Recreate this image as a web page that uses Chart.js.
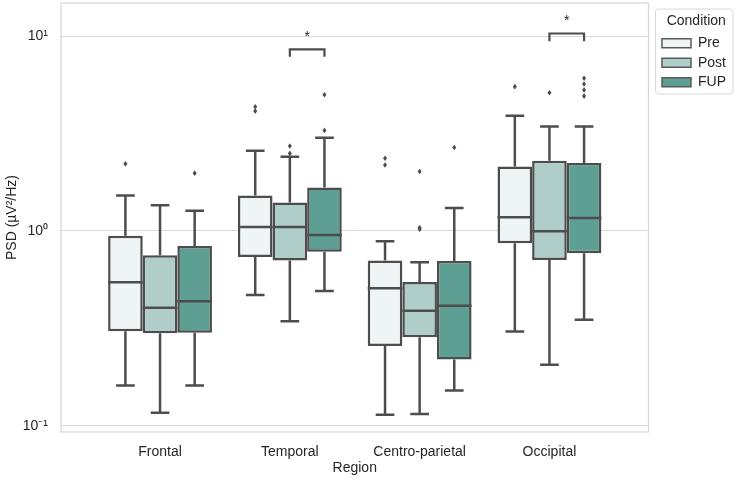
<!DOCTYPE html>
<html>
<head>
<meta charset="utf-8">
<script src="https://cdn.jsdelivr.net/npm/chart.js@4.4.1/dist/chart.umd.min.js"></script>
<style>
  body { margin: 0; background: #fff; }
</style>
</head>
<body>
<canvas id="psdChart" width="737" height="480"></canvas>
<script>
// regions on x, one box per condition
const regions = ['Frontal', 'Temporal', 'Centro-parietal', 'Occipital'];
const conditions = ['Pre', 'Post', 'FUP'];

// box stats, rows = Pre / Post / FUP, columns = regions
const lowerWhisker = [
  [0.161, 0.47, 0.114, 0.305],
  [0.117, 0.344, 0.115, 0.206],
  [0.161, 0.492, 0.152, 0.35]
];
const firstQuartile = [
  [0.306, 0.735, 0.257, 0.866],
  [0.299, 0.705, 0.285, 0.71],
  [0.301, 0.783, 0.219, 0.769]
];
const medians = [
  [0.546, 1.048, 0.508, 1.175],
  [0.404, 1.048, 0.39, 0.996],
  [0.436, 0.954, 0.414, 1.166]
];
const thirdQuartile = [
  [0.946, 1.52, 0.705, 2.14],
  [0.75, 1.40, 0.548, 2.29],
  [0.838, 1.67, 0.702, 2.23]
];
const upperWhisker = [
  [1.52, 2.58, 0.885, 3.90],
  [1.355, 2.40, 0.691, 3.44],
  [1.27, 3.01, 1.31, 3.44]
];
const outliers = [
  [[2.21], [4.12, 4.34], [2.18, 2.36], [5.5]],
  [[], [2.50, 2.73], [1.02, 1.04, 2.02], [5.12]],
  [[1.98], [3.28, 5.0], [2.68], [4.92, 5.29, 5.67, 6.07]]
];

// significance brackets (Post vs FUP)
const sigRegions = [1, 3];
const sigTop = [8.55, 10.3];
const sigLeg = [7.83, 9.39];

const yTickValues = [0.1, 1, 10];
const yTickLabels = ['10\u207B\u00B9', '10\u2070', '10\u00B9'];

const fillColors = ['#eff4f4', '#afcec9', '#5e9f93'];
const edge = '#4d4d4d';
const textColor = '#262626';
const font = "'Liberation Sans', Arial, sans-serif";

const boxExtras = {
  id: 'boxExtras',
  afterLayout(chart) {
    // nudge legend a bit right, like the reference
    if (chart.legend) { chart.legend.left += 8; chart.legend.right += 8; }
  },
  beforeDraw(chart) {
    const ctx = chart.ctx;
    ctx.save();
    ctx.strokeStyle = '#d9d9d9';
    ctx.lineWidth = 1;
    ctx.beginPath();
    ctx.roundRect(chart.chartArea.right + 7, 9, chart.width - 4 - chart.chartArea.right - 7, 85, 3);
    ctx.stroke();
    ctx.restore();
  },
  beforeDatasetsDraw(chart) {
    const ctx = chart.ctx, y = chart.scales.y, a = chart.chartArea;
    ctx.save();
    ctx.strokeStyle = '#d6d6d6';
    ctx.lineWidth = 1.2;
    ctx.strokeRect(a.left, a.top, a.right - a.left, a.bottom - a.top);
    ctx.strokeStyle = edge;
    ctx.lineWidth = 2.5;
    conditions.forEach((c, d) => {
      chart.getDatasetMeta(d).data.forEach((bar, i) => {
        const x = bar.x, cap = bar.width * 0.27;
        const yHi = y.getPixelForValue(upperWhisker[d][i]);
        const yLo = y.getPixelForValue(lowerWhisker[d][i]);
        ctx.beginPath();
        ctx.moveTo(x, y.getPixelForValue(thirdQuartile[d][i]));
        ctx.lineTo(x, yHi);
        ctx.moveTo(x, y.getPixelForValue(firstQuartile[d][i]));
        ctx.lineTo(x, yLo);
        ctx.moveTo(x - cap, yHi); ctx.lineTo(x + cap, yHi);
        ctx.moveTo(x - cap, yLo); ctx.lineTo(x + cap, yLo);
        ctx.stroke();
      });
    });
    ctx.restore();
  },
  afterDatasetsDraw(chart) {
    const ctx = chart.ctx, y = chart.scales.y;
    ctx.save();
    ctx.strokeStyle = edge;
    ctx.fillStyle = edge;
    ctx.lineWidth = 2.5;
    conditions.forEach((c, d) => {
      chart.getDatasetMeta(d).data.forEach((bar, i) => {
        const x = bar.x, half = bar.width / 2;
        const ym = y.getPixelForValue(medians[d][i]);
        ctx.beginPath();
        ctx.moveTo(x - half, ym); ctx.lineTo(x + half, ym);
        ctx.stroke();
        outliers[d][i].forEach(v => {
          const yo = y.getPixelForValue(v);
          ctx.beginPath();
          ctx.moveTo(x, yo - 2.8); ctx.lineTo(x + 2, yo);
          ctx.lineTo(x, yo + 2.8); ctx.lineTo(x - 2, yo);
          ctx.closePath();
          ctx.fill();
        });
      });
    });
    // brackets with stars
    ctx.lineWidth = 2.2;
    ctx.font = '14px ' + font;
    ctx.textAlign = 'center';
    ctx.textBaseline = 'bottom';
    ctx.fillStyle = textColor;
    sigRegions.forEach((r, k) => {
      const x1 = chart.getDatasetMeta(1).data[r].x;
      const x2 = chart.getDatasetMeta(2).data[r].x;
      const yt = y.getPixelForValue(sigTop[k]);
      const yl = y.getPixelForValue(sigLeg[k]);
      ctx.beginPath();
      ctx.moveTo(x1, yl); ctx.lineTo(x1, yt); ctx.lineTo(x2, yt); ctx.lineTo(x2, yl);
      ctx.stroke();
      ctx.fillText('*', (x1 + x2) / 2, yt - 5);
    });
    ctx.restore();
  }
};

new Chart(document.getElementById('psdChart').getContext('2d'), {
  type: 'bar',
  data: {
    datasets: conditions.map((c, d) => ({
      label: c,
      data: regions.map((r, i) => ({ x: i, y: [firstQuartile[d][i], thirdQuartile[d][i]] })),
      backgroundColor: fillColors[d],
      borderColor: edge,
      borderWidth: 2.5,
      borderSkipped: false
    }))
  },
  options: {
    responsive: false,
    animation: false,
    categoryPercentage: 0.8,
    barPercentage: 1.0,
    layout: { padding: { top: 3, right: 9, bottom: 2, left: 0 } },
    plugins: {
      tooltip: { enabled: false },
      legend: {
        position: 'right',
        align: 'start',
        title: { display: true, text: 'Condition', color: textColor, font: { family: font, size: 14 }, padding: { top: 11, bottom: 0 } },
        labels: {
          boxWidth: 29,
          boxHeight: 9,
          padding: 5.5,
          color: textColor,
          font: { family: font, size: 14 },
          generateLabels(chart) {
            return Chart.defaults.plugins.legend.labels.generateLabels(chart).map(l => ({ ...l, lineWidth: 1.5, strokeStyle: '#5a5a5a' }));
          }
        }
      }
    },
    scales: {
      x: {
        type: 'linear',
        offset: false,
        min: -0.763,
        max: 3.763,
        afterBuildTicks: s => { s.ticks = regions.map((r, i) => ({ value: i })); },
        afterFit: s => { s.height = 46; s.paddingLeft = 0; s.paddingRight = 0; },
        ticks: { callback: v => regions[v], color: textColor, font: { family: font, size: 14 }, padding: 4, maxRotation: 0 },
        grid: { display: false },
        border: { display: false },
        title: { display: true, text: 'Region', color: textColor, font: { family: font, size: 14 }, padding: { top: 2, bottom: 1.5 } }
      },
      y: {
        type: 'logarithmic',
        min: 0.0931,
        max: 14.77,
        afterBuildTicks: s => { s.ticks = yTickValues.map(v => ({ value: v })); },
        afterFit: s => { s.width = 61; s.paddingTop = 0; s.paddingBottom = 0; },
        ticks: { callback: (v, idx) => yTickLabels[idx], color: textColor, font: { family: font, size: 14 }, padding: 13 },
        grid: { color: '#d9d9d9', lineWidth: 1, drawTicks: false },
        border: { display: false },
        title: { display: true, text: 'PSD (\u00B5V\u00B2/Hz)', color: textColor, font: { family: font, size: 14 }, padding: { bottom: 4 } }
      }
    }
  },
  plugins: [boxExtras]
});
</script>
</body>
</html>
